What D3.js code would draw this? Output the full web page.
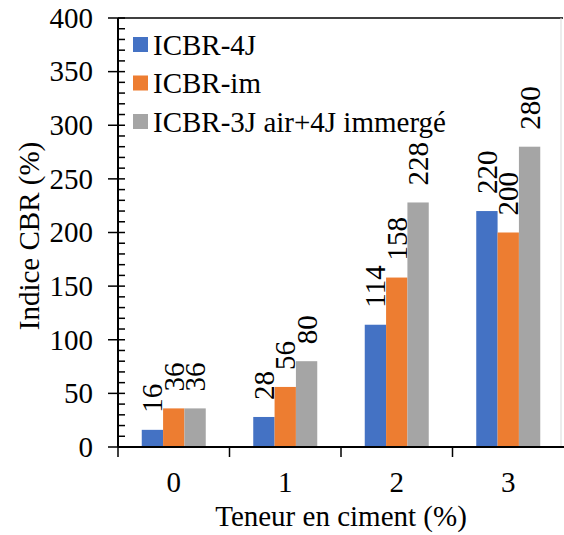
<!DOCTYPE html>
<html>
<head>
<meta charset="utf-8">
<script src="https://cdn.jsdelivr.net/npm/d3@7"></script>
<style>
  body { margin: 0; background: #fff; }
  svg { display: block; }
</style>
</head>
<body>
<svg id="chart" width="564" height="535"></svg>
<script>
const categories = ["0", "1", "2", "3"];
const seriesNames = ["ICBR-4J", "ICBR-im", "ICBR-3J air+4J immergé"];
const seriesColors = ["#4472C4", "#ED7D31", "#A5A5A5"];
const icbr4J = [16, 28, 114, 220];
const icbrIm = [36, 56, 158, 200];
const icbr3J4J = [36, 80, 228, 280];
const yTicks = [0, 50, 100, 150, 200, 250, 300, 350, 400];
const xTitle = "Teneur en ciment (%)";
const yTitle = "Indice CBR (%)";

(function () {
const seriesValues = [icbr4J, icbrIm, icbr3J4J];
const svg = d3.select("#chart");
const pL = 118, pR = 564, pT = 18, pB = 447;
const fs = 29;
const FONT = "'Liberation Serif', 'Times New Roman', serif";

const x = d3.scaleBand().domain(categories).range([pL, pR]).padding(0);
const groupW = 64;
const xs = d3.scaleBand().domain(d3.range(seriesNames.length)).range([0, groupW]).padding(0);
const y = d3.scaleLinear().domain([0, 400]).range([pB, pT]);

// frame lines
svg.append("line").attr("x1", pL).attr("x2", 563).attr("y1", pT).attr("y2", pT)
  .attr("stroke", "#000").attr("stroke-width", 1.5);
svg.append("line").attr("x1", 561).attr("x2", 561).attr("y1", pT).attr("y2", pB)
  .attr("stroke", "#d9d9d9").attr("stroke-width", 1);

// bars
categories.forEach((c, ci) => {
  const gx = x(c) + (x.bandwidth() - groupW) / 2;
  seriesValues.forEach((vals, si) => {
    const v = vals[ci];
    svg.append("rect")
      .attr("x", gx + xs(si)).attr("width", xs.bandwidth())
      .attr("y", y(v)).attr("height", y(0) - y(v))
      .attr("fill", seriesColors[si]);
    const cx = gx + xs(si) + xs.bandwidth() / 2;
    svg.append("text")
      .attr("transform", `translate(${cx},${y(v) - 17}) rotate(-90)`)
      .attr("text-anchor", "start").attr("dominant-baseline", "central")
      .text(v);
  });
});

// y axis
const yAxis = d3.axisLeft(y).tickValues(yTicks).tickSize(0).tickPadding(0);
const yg = svg.append("g").attr("transform", `translate(${pL},0)`).call(yAxis);
yg.select(".domain").remove();
yg.selectAll("text").attr("x", -25);
svg.append("line").attr("x1", pL).attr("x2", pL).attr("y1", pT).attr("y2", pB)
  .attr("stroke", "#000").attr("stroke-width", 2);
svg.selectAll(".ymaj").data(yTicks).join("line")
  .attr("x1", pL - 10).attr("x2", pL + 7)
  .attr("y1", d => y(d)).attr("y2", d => y(d))
  .attr("stroke", "#000").attr("stroke-width", 1.5);
const minor = d3.range(0, 401, 10).filter(d => d % 50 !== 0);
svg.selectAll(".ymin").data(minor).join("line")
  .attr("x1", pL).attr("x2", pL + 7)
  .attr("y1", d => y(d)).attr("y2", d => y(d))
  .attr("stroke", "#000").attr("stroke-width", 1.5);

// x axis
svg.append("line").attr("x1", pL).attr("x2", pR).attr("y1", pB).attr("y2", pB)
  .attr("stroke", "#000").attr("stroke-width", 2);
svg.selectAll(".xt").data(categories).join("line")
  .attr("x1", d => x(d)).attr("x2", d => x(d))
  .attr("y1", pB).attr("y2", pB + 10)
  .attr("stroke", "#000").attr("stroke-width", 1.5);
svg.selectAll(".xl").data(categories).join("text")
  .attr("x", d => x(d) + x.bandwidth() / 2).attr("y", 492)
  .attr("text-anchor", "middle").text(d => d);

// titles
svg.append("text").attr("x", 341).attr("y", 526).attr("text-anchor", "middle")
  .text(xTitle);
svg.append("text").attr("transform", "translate(39,236) rotate(-90)")
  .attr("text-anchor", "middle").text(yTitle);

// legend
seriesNames.forEach((n, i) => {
  const cy = 44.5 + i * 38.5;
  svg.append("rect").attr("x", 133).attr("y", cy - 7.5).attr("width", 15).attr("height", 15)
    .attr("fill", seriesColors[i]);
  svg.append("text").attr("x", 153).attr("y", cy + 10).text(n);
});

svg.selectAll("text")
  .style("font-family", FONT).style("font-size", fs + "px").style("fill", "#000");
})();
</script>
</body>
</html>
